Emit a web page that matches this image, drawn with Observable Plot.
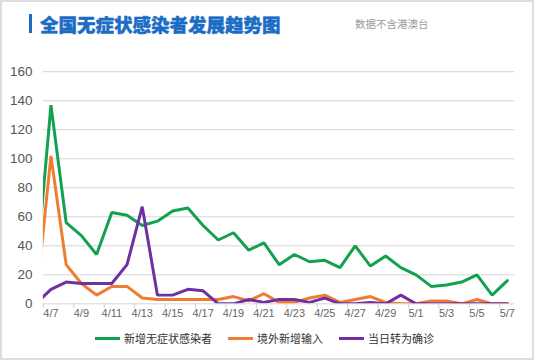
<!DOCTYPE html>
<html>
<head>
<meta charset="utf-8">
<script src="https://cdn.jsdelivr.net/npm/d3@7"></script>
<script src="https://cdn.jsdelivr.net/npm/@observablehq/plot@0.6"></script>
<style>
  body { margin: 0; background: #fff; }
  #wrap { position: relative; width: 534px; height: 360px; box-sizing: border-box; border: 2px solid #dedede; overflow: hidden; font-family: "Liberation Sans", "Noto Sans CJK SC", sans-serif; }
  #bar { position: absolute; left: 27px; top: 12px; width: 3px; height: 19px; background: #1a6cc4; }
  #title { position: absolute; left: 38px; top: 9px; font-size: 18.5px; font-weight: 900; color: #1a6cc4; font-family: "Noto Sans CJK SC", sans-serif; white-space: nowrap; -webkit-text-stroke: 0.4px #1a6cc4; }
  #sub { position: absolute; left: 353px; top: 14px; font-size: 10.5px; color: #9a9a9a; font-family: "Noto Sans CJK SC", sans-serif; white-space: nowrap; }
  #chart { position: absolute; left: -2px; top: 48px; }
  #legend { position: absolute; left: 93px; top: 328px; display: flex; align-items: center; font-size: 11px; color: #333; font-family: "Noto Sans CJK SC", sans-serif; }
  .item { display: flex; align-items: center; margin-right: 16px; }
  .sw { width: 25px; height: 3px; margin-right: 4px; }
</style>
</head>
<body>
<div id="wrap">
  <div id="bar"></div>
  <div id="title">全国无症状感染者发展趋势图</div>
  <div id="sub">数据不含港澳台</div>
  <div id="chart"></div>
  <div id="legend"></div>
</div>
<script>
// dates (4/6 is only partly visible at the left edge)
const dates = ["4/6","4/7","4/8","4/9","4/10","4/11","4/12","4/13","4/14","4/15","4/16","4/17","4/18","4/19","4/20","4/21","4/22","4/23","4/24","4/25","4/26","4/27","4/28","4/29","4/30","5/1","5/2","5/3","5/4","5/5","5/6","5/7"];
const newAsym   = [18,137,56,47,34,63,61,54,57,64,66,54,44,49,37,42,27,34,29,30,25,40,26,33,25,20,12,13,15,20,6,16];
const imported  = [0,102,27,14,6,12,12,4,3,3,3,3,3,5,2,7,1,1,4,6,1,3,5,1,0,0,2,2,0,3,0,0];
const toConfirm = [0,10,15,14,14,14,27,67,6,6,10,9,0,0,3,1,3,3,1,4,0,0,1,0,6,0,0,0,0,0,0,0];
const seriesNames = ["新增无症状感染者","境外新增输入","当日转为确诊"];
const seriesColors = ["#12a150","#ee7d31","#7030a0"];
const yTicks = [0,20,40,60,80,100,120,140,160];

// index: 4/7 = 0
const idx = dates.map((d, i) => i - 1);
const mk = vals => dates.map((d, i) => ({x: idx[i], y: vals[i]}));
const labelTicks = idx.filter(i => i >= 0 && i % 2 === 0);
const boundaryTicks = d3.range(-0.5, 31, 2);

const chart = Plot.plot({
  width: 534,
  height: 280,
  marginLeft: 43,
  marginRight: 17.6,
  marginTop: 21.3,
  marginBottom: 25.7,
  x: {type: "linear", domain: [-0.5, 30.5]},
  y: {domain: [0, 160]},
  style: {fontFamily: "Liberation Sans, Noto Sans CJK SC, sans-serif", color: "#555", background: "transparent"},
  marks: [
    Plot.gridY(yTicks, {stroke: "#d4d4d4", strokeOpacity: 1}),
    Plot.axisY({ticks: yTicks, tickSize: 0, tickPadding: 11, fontSize: 13.5, label: null, fill: "#555"}),
    Plot.axisX({ticks: boundaryTicks, tickSize: 5, tickFormat: () => "", stroke: "#cfcfcf", label: null}),
    Plot.axisX({ticks: labelTicks, tickSize: 0, tickPadding: 5, fontSize: 11, fill: "#666", label: null,
                tickFormat: i => dates[i + 1]}),
    Plot.line(mk(newAsym), {x: "x", y: "y", stroke: seriesColors[0], strokeWidth: 3, clip: true, strokeLinejoin: "miter"}),
    Plot.line(mk(imported), {x: "x", y: "y", stroke: seriesColors[1], strokeWidth: 3, clip: true, strokeLinejoin: "miter"}),
    Plot.line(mk(toConfirm), {x: "x", y: "y", stroke: seriesColors[2], strokeWidth: 3, clip: true, strokeLinejoin: "miter"})
  ]
});
document.getElementById("chart").appendChild(chart);

const leg = document.getElementById("legend");
seriesNames.forEach((n, i) => {
  const it = document.createElement("div");
  it.className = "item";
  const sw = document.createElement("div");
  sw.className = "sw";
  sw.style.background = seriesColors[i];
  const t = document.createElement("span");
  t.textContent = n;
  it.appendChild(sw); it.appendChild(t);
  leg.appendChild(it);
});
</script>
</body>
</html>
